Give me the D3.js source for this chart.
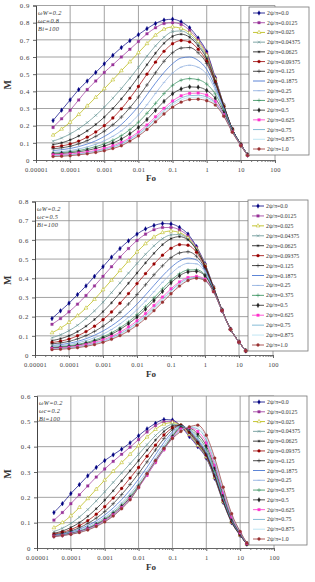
<!DOCTYPE html>
<html>
<head>
<meta charset="utf-8">
<script src="https://cdn.jsdelivr.net/npm/d3@7"></script>
<style>
body { margin: 0; background: #fff; }
svg text { font-family: "Liberation Serif", "DejaVu Serif", serif; }
</style>
</head>
<body>
<div id="chart"></div>
<script>
// Fo sample points shared by all curves
var fo = [0.0000316, 0.0000562, 0.0001, 0.000178, 0.000316, 0.000562, 0.001, 0.00178, 0.00316, 0.00562,
          0.01, 0.0178, 0.0316, 0.0562, 0.1, 0.178, 0.316, 0.562, 1, 1.78, 3.16, 5.62, 10, 15.8];

// legend values 2psi/pi
var psi = ["0.0", "0.0125", "0.025", "0.04375", "0.0625", "0.09375", "0.125", "0.1875",
           "0.25", "0.375", "0.5", "0.625", "0.75", "0.875", "1.0"];

var xTicks = [0.00001, 0.0001, 0.001, 0.01, 0.1, 1, 10, 100];
var xTickLabels = ["0.00001", "0.0001", "0.001", "0.01", "0.1", "1", "10", "100"];

var notesA = ["\u03c9W=0.2", "\u03c9c=0.8", "Bi=100"];
var notesB = ["\u03c9W=0.2", "\u03c9c=0.5", "Bi=100"];
var notesC = ["\u03c9W=0.2", "\u03c9c=0.2", "Bi=100"];

// M values, one row per legend entry (top chart)
var panelA = [
  [0.23, 0.29, 0.35, 0.41, 0.46, 0.51, 0.56, 0.61, 0.655, 0.695, 0.73, 0.765, 0.795, 0.815, 0.82, 0.805, 0.77, 0.71, 0.63, 0.48, 0.32, 0.18, 0.09, 0.03],
  [0.19, 0.24, 0.29, 0.35, 0.41, 0.46, 0.51, 0.555, 0.60, 0.645, 0.69, 0.735, 0.77, 0.795, 0.80, 0.79, 0.755, 0.70, 0.62, 0.475, 0.32, 0.18, 0.09, 0.03],
  [0.145, 0.18, 0.22, 0.265, 0.315, 0.365, 0.415, 0.467, 0.52, 0.572, 0.625, 0.678, 0.727, 0.762, 0.775, 0.767, 0.74, 0.69, 0.61, 0.47, 0.318, 0.18, 0.09, 0.03],
  [0.11, 0.128, 0.152, 0.182, 0.218, 0.26, 0.308, 0.36, 0.416, 0.476, 0.54, 0.605, 0.665, 0.715, 0.748, 0.752, 0.728, 0.677, 0.6, 0.465, 0.315, 0.18, 0.09, 0.03],
  [0.09, 0.1, 0.117, 0.14, 0.17, 0.207, 0.25, 0.3, 0.356, 0.418, 0.485, 0.555, 0.622, 0.68, 0.72, 0.733, 0.715, 0.665, 0.59, 0.46, 0.315, 0.18, 0.09, 0.03],
  [0.075, 0.082, 0.093, 0.11, 0.133, 0.163, 0.2, 0.245, 0.298, 0.36, 0.428, 0.5, 0.57, 0.633, 0.677, 0.696, 0.688, 0.645, 0.575, 0.455, 0.31, 0.18, 0.09, 0.03],
  [0.065, 0.071, 0.08, 0.094, 0.113, 0.138, 0.168, 0.205, 0.25, 0.305, 0.367, 0.437, 0.508, 0.575, 0.625, 0.652, 0.655, 0.625, 0.562, 0.445, 0.31, 0.18, 0.09, 0.03],
  [0.055, 0.06, 0.067, 0.078, 0.093, 0.112, 0.137, 0.168, 0.207, 0.256, 0.313, 0.38, 0.448, 0.51, 0.561, 0.594, 0.60, 0.58, 0.528, 0.425, 0.302, 0.177, 0.089, 0.03],
  [0.045, 0.049, 0.055, 0.064, 0.076, 0.092, 0.112, 0.138, 0.17, 0.212, 0.262, 0.322, 0.388, 0.452, 0.506, 0.541, 0.552, 0.54, 0.5, 0.41, 0.297, 0.175, 0.088, 0.029],
  [0.04, 0.043, 0.048, 0.055, 0.065, 0.078, 0.094, 0.115, 0.142, 0.177, 0.22, 0.272, 0.33, 0.387, 0.435, 0.465, 0.474, 0.468, 0.442, 0.385, 0.288, 0.172, 0.087, 0.029],
  [0.035, 0.038, 0.042, 0.048, 0.056, 0.067, 0.081, 0.099, 0.122, 0.153, 0.19, 0.236, 0.289, 0.342, 0.386, 0.414, 0.426, 0.424, 0.405, 0.36, 0.275, 0.168, 0.086, 0.029],
  [0.03, 0.032, 0.035, 0.04, 0.047, 0.056, 0.068, 0.083, 0.102, 0.13, 0.163, 0.204, 0.252, 0.301, 0.344, 0.374, 0.388, 0.39, 0.378, 0.34, 0.265, 0.165, 0.085, 0.028],
  [0.025, 0.027, 0.03, 0.035, 0.042, 0.051, 0.062, 0.076, 0.094, 0.121, 0.153, 0.193, 0.24, 0.288, 0.331, 0.361, 0.375, 0.377, 0.366, 0.333, 0.261, 0.164, 0.085, 0.028],
  [0.022, 0.024, 0.027, 0.032, 0.038, 0.047, 0.057, 0.071, 0.088, 0.115, 0.146, 0.185, 0.23, 0.278, 0.32, 0.35, 0.364, 0.366, 0.356, 0.327, 0.258, 0.163, 0.084, 0.028],
  [0.02, 0.022, 0.025, 0.03, 0.036, 0.044, 0.054, 0.067, 0.083, 0.11, 0.14, 0.178, 0.222, 0.268, 0.308, 0.337, 0.352, 0.354, 0.345, 0.32, 0.255, 0.162, 0.083, 0.027]
];

// middle chart
var panelB = [
  [0.19, 0.23, 0.27, 0.315, 0.36, 0.41, 0.46, 0.51, 0.555, 0.595, 0.63, 0.657, 0.675, 0.685, 0.683, 0.665, 0.63, 0.565, 0.475, 0.355, 0.235, 0.135, 0.068, 0.022],
  [0.16, 0.19, 0.225, 0.265, 0.31, 0.36, 0.41, 0.46, 0.51, 0.555, 0.597, 0.63, 0.653, 0.664, 0.665, 0.652, 0.62, 0.56, 0.472, 0.354, 0.235, 0.135, 0.068, 0.022],
  [0.116, 0.14, 0.17, 0.205, 0.245, 0.29, 0.34, 0.39, 0.44, 0.49, 0.537, 0.58, 0.615, 0.638, 0.646, 0.638, 0.61, 0.553, 0.468, 0.352, 0.234, 0.135, 0.068, 0.022],
  [0.09, 0.105, 0.127, 0.155, 0.19, 0.23, 0.275, 0.325, 0.376, 0.427, 0.477, 0.525, 0.569, 0.606, 0.626, 0.628, 0.605, 0.55, 0.466, 0.35, 0.234, 0.135, 0.068, 0.022],
  [0.075, 0.085, 0.1, 0.122, 0.15, 0.185, 0.226, 0.272, 0.322, 0.374, 0.427, 0.48, 0.53, 0.575, 0.606, 0.617, 0.6, 0.548, 0.465, 0.35, 0.234, 0.135, 0.068, 0.022],
  [0.065, 0.072, 0.083, 0.1, 0.122, 0.15, 0.184, 0.224, 0.27, 0.32, 0.372, 0.424, 0.474, 0.52, 0.556, 0.575, 0.572, 0.535, 0.46, 0.348, 0.233, 0.135, 0.068, 0.022],
  [0.058, 0.063, 0.071, 0.084, 0.101, 0.123, 0.15, 0.183, 0.222, 0.266, 0.315, 0.366, 0.418, 0.465, 0.507, 0.532, 0.538, 0.515, 0.452, 0.345, 0.233, 0.134, 0.068, 0.022],
  [0.05, 0.054, 0.061, 0.071, 0.085, 0.103, 0.125, 0.152, 0.184, 0.222, 0.265, 0.313, 0.363, 0.412, 0.456, 0.49, 0.505, 0.495, 0.443, 0.342, 0.232, 0.134, 0.067, 0.022],
  [0.045, 0.048, 0.054, 0.063, 0.075, 0.09, 0.109, 0.133, 0.162, 0.196, 0.236, 0.281, 0.33, 0.379, 0.424, 0.46, 0.478, 0.475, 0.433, 0.34, 0.232, 0.134, 0.067, 0.022],
  [0.04, 0.043, 0.048, 0.055, 0.065, 0.078, 0.095, 0.116, 0.142, 0.173, 0.21, 0.252, 0.298, 0.345, 0.389, 0.424, 0.443, 0.444, 0.418, 0.336, 0.231, 0.134, 0.067, 0.022],
  [0.037, 0.04, 0.044, 0.051, 0.06, 0.072, 0.088, 0.108, 0.133, 0.163, 0.198, 0.239, 0.284, 0.331, 0.376, 0.413, 0.433, 0.436, 0.413, 0.335, 0.231, 0.134, 0.067, 0.022],
  [0.034, 0.036, 0.04, 0.046, 0.054, 0.065, 0.079, 0.097, 0.119, 0.146, 0.178, 0.216, 0.258, 0.302, 0.345, 0.381, 0.404, 0.41, 0.395, 0.33, 0.23, 0.133, 0.067, 0.022],
  [0.031, 0.033, 0.037, 0.042, 0.05, 0.06, 0.073, 0.09, 0.111, 0.137, 0.168, 0.205, 0.247, 0.291, 0.335, 0.373, 0.398, 0.405, 0.39, 0.33, 0.23, 0.133, 0.067, 0.022],
  [0.03, 0.032, 0.035, 0.04, 0.047, 0.057, 0.07, 0.086, 0.106, 0.131, 0.161, 0.197, 0.238, 0.282, 0.326, 0.365, 0.392, 0.40, 0.387, 0.328, 0.23, 0.133, 0.067, 0.022],
  [0.028, 0.03, 0.033, 0.038, 0.045, 0.054, 0.066, 0.082, 0.101, 0.125, 0.155, 0.19, 0.231, 0.275, 0.319, 0.359, 0.388, 0.40, 0.388, 0.33, 0.231, 0.133, 0.067, 0.022]
];

// bottom chart
var panelC = [
  [0.14, 0.175, 0.215, 0.25, 0.285, 0.318, 0.345, 0.368, 0.39, 0.415, 0.443, 0.47, 0.492, 0.507, 0.505, 0.48, 0.44, 0.40, 0.355, 0.275, 0.18, 0.10, 0.05, 0.015],
  [0.11, 0.14, 0.175, 0.21, 0.245, 0.28, 0.312, 0.342, 0.37, 0.398, 0.428, 0.458, 0.483, 0.498, 0.50, 0.482, 0.445, 0.403, 0.357, 0.277, 0.182, 0.101, 0.05, 0.015],
  [0.08, 0.1, 0.127, 0.16, 0.195, 0.232, 0.268, 0.303, 0.337, 0.37, 0.404, 0.438, 0.468, 0.489, 0.495, 0.483, 0.448, 0.406, 0.36, 0.279, 0.183, 0.102, 0.051, 0.015],
  [0.065, 0.078, 0.097, 0.122, 0.152, 0.186, 0.222, 0.259, 0.296, 0.333, 0.37, 0.408, 0.444, 0.472, 0.488, 0.484, 0.452, 0.41, 0.362, 0.281, 0.185, 0.103, 0.051, 0.015],
  [0.058, 0.067, 0.081, 0.1, 0.125, 0.155, 0.189, 0.226, 0.265, 0.305, 0.345, 0.386, 0.426, 0.46, 0.481, 0.485, 0.455, 0.413, 0.365, 0.283, 0.186, 0.104, 0.052, 0.016],
  [0.055, 0.062, 0.073, 0.088, 0.108, 0.133, 0.163, 0.197, 0.235, 0.276, 0.318, 0.362, 0.406, 0.446, 0.474, 0.485, 0.458, 0.417, 0.368, 0.286, 0.188, 0.105, 0.052, 0.016],
  [0.052, 0.058, 0.067, 0.08, 0.097, 0.118, 0.144, 0.175, 0.211, 0.251, 0.294, 0.34, 0.387, 0.432, 0.467, 0.485, 0.461, 0.421, 0.372, 0.289, 0.19, 0.106, 0.053, 0.016],
  [0.05, 0.055, 0.063, 0.074, 0.089, 0.107, 0.13, 0.158, 0.191, 0.229, 0.272, 0.319, 0.368, 0.417, 0.458, 0.483, 0.464, 0.426, 0.377, 0.293, 0.193, 0.108, 0.054, 0.016],
  [0.049, 0.053, 0.06, 0.07, 0.083, 0.1, 0.121, 0.147, 0.178, 0.214, 0.256, 0.303, 0.353, 0.404, 0.45, 0.481, 0.467, 0.432, 0.383, 0.298, 0.197, 0.11, 0.055, 0.017],
  [0.048, 0.052, 0.058, 0.067, 0.079, 0.095, 0.115, 0.14, 0.17, 0.205, 0.247, 0.294, 0.344, 0.395, 0.443, 0.478, 0.47, 0.44, 0.392, 0.306, 0.203, 0.113, 0.056, 0.017],
  [0.047, 0.051, 0.057, 0.065, 0.077, 0.092, 0.111, 0.135, 0.164, 0.199, 0.242, 0.29, 0.34, 0.39, 0.439, 0.474, 0.473, 0.45, 0.403, 0.316, 0.21, 0.117, 0.058, 0.018],
  [0.047, 0.05, 0.056, 0.064, 0.075, 0.09, 0.108, 0.131, 0.16, 0.195, 0.238, 0.287, 0.338, 0.388, 0.435, 0.47, 0.475, 0.46, 0.415, 0.327, 0.218, 0.122, 0.06, 0.018],
  [0.046, 0.05, 0.055, 0.063, 0.074, 0.088, 0.106, 0.129, 0.158, 0.193, 0.24, 0.29, 0.341, 0.39, 0.434, 0.466, 0.477, 0.47, 0.426, 0.338, 0.226, 0.127, 0.062, 0.019],
  [0.046, 0.049, 0.055, 0.062, 0.072, 0.086, 0.104, 0.127, 0.156, 0.191, 0.24, 0.292, 0.343, 0.392, 0.433, 0.463, 0.478, 0.478, 0.436, 0.347, 0.233, 0.131, 0.064, 0.019],
  [0.045, 0.049, 0.054, 0.061, 0.071, 0.085, 0.103, 0.126, 0.155, 0.19, 0.24, 0.293, 0.345, 0.393, 0.432, 0.46, 0.478, 0.485, 0.445, 0.355, 0.24, 0.135, 0.065, 0.02]
];

// line colour and marker per legend entry
var styles = [
  {c: "#000080", m: "diamond", fill: true},
  {c: "#993399", m: "square", fill: true},
  {c: "#b5b500", m: "triangle", fill: false},
  {c: "#5f8f8f", m: "times"},
  {c: "#111111", m: "asterisk"},
  {c: "#990000", m: "circle", fill: true},
  {c: "#222222", m: "plus"},
  {c: "#3366cc", m: null},
  {c: "#88aadd", m: "dash"},
  {c: "#2e8b57", m: "plus"},
  {c: "#222222", m: "diamond", fill: true},
  {c: "#ff33cc", m: "square", fill: true},
  {c: "#66aacc", m: null},
  {c: "#b0e0f0", m: null},
  {c: "#993333", m: "circle", fill: true}
];

var panels = [
  {rows: panelA, yMax: 0.9, notes: notesA, left: 36, right: 275, top: 5.5, bottom: 160,
   legend: {x: 249, y: 7, w: 60, h: 148}, xTitle: 181},
  {rows: panelB, yMax: 0.8, notes: notesB, left: 35, right: 273, top: 201.5, bottom: 355,
   legend: {x: 248, y: 200, w: 60, h: 151}, xTitle: 377},
  {rows: panelC, yMax: 0.6, notes: notesC, left: 37, right: 274, top: 396, bottom: 548,
   legend: {x: 249, y: 396, w: 58, h: 149}, xTitle: 570}
];

var svg = d3.select("#chart").append("svg")
    .attr("width", 315)
    .attr("height", 582);

function markerPath(name, size) {
    if (name === "dash") return "M-1.4,0H1.4";
    var types = {
        diamond: d3.symbolDiamond,
        square: d3.symbolSquare,
        triangle: d3.symbolTriangle,
        circle: d3.symbolCircle,
        times: d3.symbolTimes || d3.symbolCross,
        plus: d3.symbolPlus || d3.symbolCross,
        asterisk: d3.symbolAsterisk || d3.symbolStar
    };
    return d3.symbol().type(types[name]).size(size)();
}

function drawMarker(sel, st) {
    var filled = st.fill === true;
    var size = (st.m === "diamond" || st.m === "square" || st.m === "circle") ? 6.5 : 6;
    sel.attr("d", markerPath(st.m, size))
        .attr("fill", filled ? st.c : (st.m === "triangle" ? "#fff" : "none"))
        .attr("stroke", st.c)
        .attr("stroke-width", filled ? 0.3 : 0.5);
}

panels.forEach(function(p, pi) {
    var x = d3.scaleLog().domain([0.00001, 100]).range([p.left, p.right]);
    var y = d3.scaleLinear().domain([0, p.yMax]).range([p.bottom, p.top]);
    var yTicks = d3.range(0, Math.round(p.yMax * 10) + 1).map(function(i) { return i / 10; });

    var g = svg.append("g");

    // grid
    g.append("g").selectAll("line")
        .data(yTicks.slice(1))
        .enter().append("line")
        .attr("x1", p.left).attr("x2", p.right)
        .attr("y1", function(d) { return y(d); })
        .attr("y2", function(d) { return y(d); })
        .attr("stroke", "#8c8c8c")
        .attr("stroke-width", 0.8);
    g.append("g").selectAll("line")
        .data(xTicks.slice(1))
        .enter().append("line")
        .attr("x1", function(d) { return x(d); })
        .attr("x2", function(d) { return x(d); })
        .attr("y1", p.top).attr("y2", p.bottom)
        .attr("stroke", "#8c8c8c")
        .attr("stroke-width", 0.8);

    // minor ticks on the log axis
    var minor = [];
    xTicks.slice(0, -1).forEach(function(t) {
        for (var k = 2; k < 10; k++) minor.push(t * k);
    });
    g.append("g")
        .attr("transform", "translate(0," + p.bottom + ")")
        .call(d3.axisBottom(x).tickValues(minor).tickSize(2).tickFormat(""))
        .call(function(a) { a.select(".domain").remove(); a.selectAll("line").attr("stroke", "#777"); });

    // x axis
    var xa = g.append("g")
        .attr("transform", "translate(0," + p.bottom + ")")
        .call(d3.axisBottom(x).tickValues(xTicks).tickSize(3).tickPadding(4)
            .tickFormat(function(d, i) { return xTickLabels[i]; }));
    xa.select(".domain").attr("stroke", "#666");
    xa.selectAll("line").attr("stroke", "#666");
    xa.selectAll("text").attr("font-size", "6.5px").attr("fill", "#444")
        .style("font-family", "'Liberation Serif', serif").attr("letter-spacing", "0.3px");

    // y axis
    var ya = g.append("g")
        .attr("transform", "translate(" + p.left + ",0)")
        .call(d3.axisLeft(y).tickValues(yTicks).tickSize(3).tickPadding(3)
            .tickFormat(function(d) { return d === 0 ? "0" : d.toFixed(1); }));
    ya.select(".domain").attr("stroke", "#444");
    ya.selectAll("line").attr("stroke", "#666");
    ya.selectAll("text").attr("font-size", "6.8px").attr("fill", "#444")
        .style("font-family", "'Liberation Serif', serif").attr("letter-spacing", "0.6px");

    // clip
    g.append("clipPath").attr("id", "clip" + pi)
        .append("rect")
        .attr("x", p.left).attr("y", p.top)
        .attr("width", p.right - p.left).attr("height", p.bottom - p.top);

    var line = d3.line()
        .curve(d3.curveMonotoneX)
        .x(function(d, i) { return x(fo[i]); })
        .y(function(d) { return y(d); });

    var curves = g.append("g").attr("clip-path", "url(#clip" + pi + ")");
    p.rows.forEach(function(row, si) {
        var st = styles[si];
        curves.append("path")
            .datum(row)
            .attr("d", line)
            .attr("fill", "none")
            .attr("stroke", st.c)
            .attr("stroke-width", 0.7);
        if (st.m) {
            curves.append("g").selectAll("path")
                .data(row)
                .enter().append("path")
                .attr("transform", function(d, i) { return "translate(" + x(fo[i]) + "," + y(d) + ")"; })
                .call(drawMarker, st);
        }
    });

    // notes
    g.append("g").selectAll("text")
        .data(p.notes)
        .enter().append("text")
        .attr("x", p.left + 2)
        .attr("y", function(d, i) { return p.top + 9 + i * 8; })
        .attr("font-size", "6.3px")
        .attr("font-style", "italic")
        .attr("fill", "#333")
        .attr("letter-spacing", "0.3px")
        .text(function(d) { return d; });

    // axis titles
    g.append("text")
        .attr("transform", "translate(11," + ((p.top + p.bottom) / 2 + 2) + ") rotate(-90)")
        .attr("text-anchor", "middle")
        .attr("font-size", "10px")
        .attr("font-weight", "bold")
        .attr("fill", "#333")
        .text("M");
    g.append("text")
        .attr("x", 151).attr("y", p.xTitle)
        .attr("text-anchor", "middle")
        .attr("font-size", "9px")
        .attr("font-weight", "bold")
        .attr("fill", "#333")
        .text("Fo");

    // legend
    var lg = g.append("g").attr("transform", "translate(" + p.legend.x + "," + p.legend.y + ")");
    lg.append("rect")
        .attr("width", p.legend.w).attr("height", p.legend.h)
        .attr("fill", "#fff")
        .attr("stroke", "#777")
        .attr("stroke-width", 0.8);
    var step = (p.legend.h - 12) / (psi.length - 1);
    psi.forEach(function(v, i) {
        var st = styles[i];
        var row = lg.append("g").attr("transform", "translate(0," + (6 + i * step) + ")");
        row.append("line")
            .attr("x1", 4).attr("x2", 16)
            .attr("stroke", st.c).attr("stroke-width", 0.8);
        if (st.m) row.append("path").attr("transform", "translate(10,0)").call(drawMarker, st);
        row.append("text")
            .attr("x", 18).attr("y", 2)
            .attr("font-size", "5.8px")
            .attr("fill", "#333")
            .text("2\u03c8/\u03c0=" + v);
    });
});
</script>
</body>
</html>
